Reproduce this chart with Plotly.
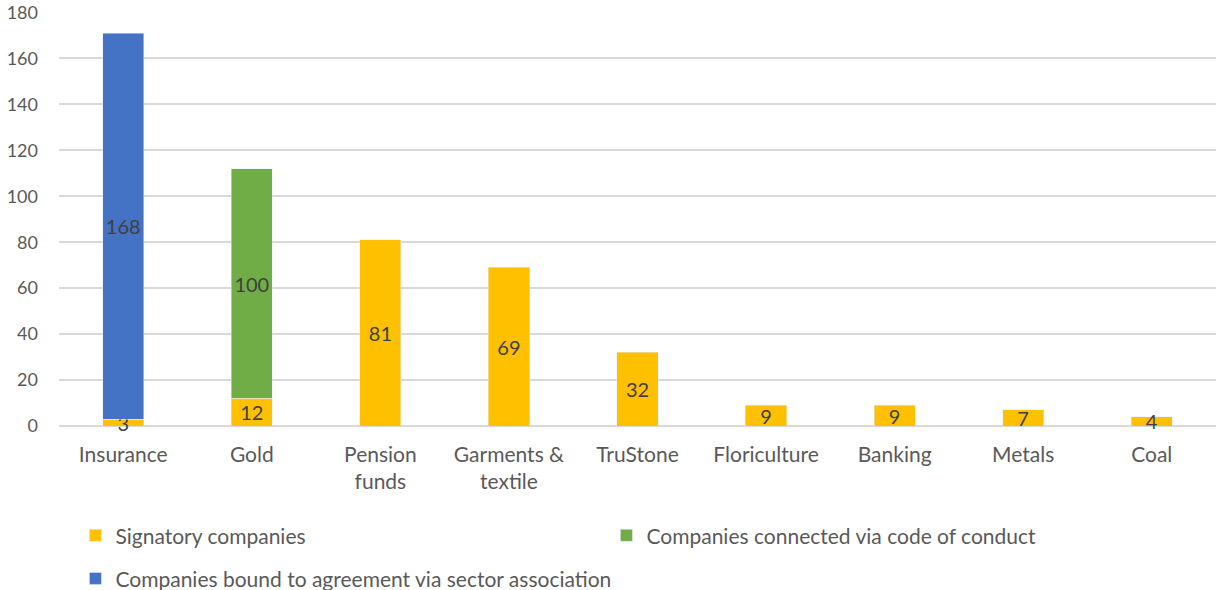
import plotly.graph_objects as go

categories = ["Insurance", "Gold", "Pension<br>funds", "Garments &<br>textile", "TruStone",
              "Floriculture", "Banking", "Metals", "Coal"]
signatory = [3, 12, 81, 69, 32, 9, 9, 7, 4]
code_of_conduct = [None, 100, None, None, None, None, None, None, None]
sector_association = [168, None, None, None, None, None, None, None, None]
y_ticks = [0, 20, 40, 60, 80, 100, 120, 140, 160, 180]

FONT = "Lato"
GREY = "#595959"
LABEL = "#404040"
label_font = dict(color=LABEL, size=20, family=FONT)

fig = go.Figure()
fig.add_trace(go.Bar(name="Signatory companies", x=categories, y=signatory,
                     marker_color="#FFC000", text=signatory, textposition="inside",
                     insidetextanchor="middle", cliponaxis=False, textangle=0,
                     textfont=label_font, legend="legend"))
fig.add_trace(go.Bar(name="Companies connected via code of conduct", x=categories, y=code_of_conduct,
                     marker_color="#70AD47", text=code_of_conduct, textposition="inside",
                     insidetextanchor="middle", cliponaxis=False, textangle=0,
                     textfont=label_font, legend="legend"))
fig.add_trace(go.Bar(name="Companies bound to agreement via sector association", x=categories,
                     y=sector_association, marker_color="#4472C4", text=sector_association,
                     textposition="inside", insidetextanchor="middle", cliponaxis=False,
                     textangle=0, textfont=label_font, legend="legend2"))

legend_common = dict(orientation="h", xanchor="left", yanchor="middle", traceorder="normal",
                     font=dict(family=FONT, size=21, color=GREY),
                     bgcolor="rgba(0,0,0,0)", itemwidth=30)

fig.update_layout(
    barmode="stack",
    bargap=0.68,
    width=1219, height=590,
    margin=dict(l=59, r=3, t=12, b=164, autoexpand=False),
    plot_bgcolor="white", paper_bgcolor="white",
    font=dict(family=FONT, size=19, color=GREY),
    uniformtext=dict(minsize=20, mode="show"),
    xaxis=dict(showgrid=False, showline=False, ticks="", automargin=False,
               ticklabelstandoff=14, tickfont=dict(size=21, color=GREY)),
    yaxis=dict(range=[0, 180.2], tickvals=y_ticks, showgrid=True, gridcolor="#D9D9D9",
               gridwidth=1.5, zeroline=True, zerolinecolor="#D9D9D9", zerolinewidth=1.5,
               showline=False, ticks="", ticklabelstandoff=20, automargin=False,
               ticklabeloverflow="allow", tickfont=dict(size=18, color=GREY)),
    legend=dict(x=0.0142, y=-0.265, entrywidth=486, entrywidthmode="pixels", **legend_common),
    legend2=dict(x=0.0142, y=-0.369, **legend_common),
    showlegend=True,
)

fig.write_html("out.html", config={"displayModeBar": False},
               post_script="document.body.style.margin='0';")
